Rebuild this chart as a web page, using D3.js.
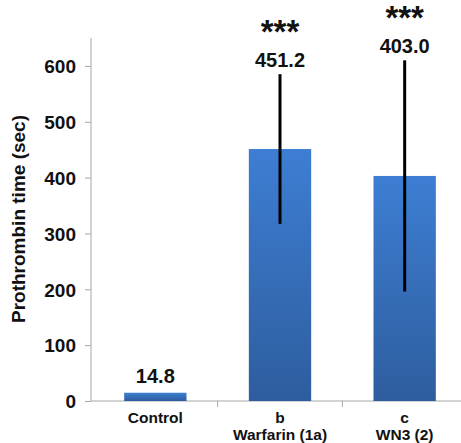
<!DOCTYPE html>
<html>
<head>
<meta charset="utf-8">
<script src="https://cdn.jsdelivr.net/npm/d3@7"></script>
<style>
	body { margin: 0; background: #fff; }
	text { font-family: "Liberation Sans", Arial, sans-serif; fill: #111; }
</style>
</head>
<body>
<svg id="chart" width="461" height="443"></svg>
<script>
// data
var categories = ["Control", "Warfarin (1a)", "WN3 (2)"];
var subLabels = ["", "b", "c"];
var values = [14.8, 451.2, 403.0];
var errors = [0, 134, 207];
var valueLabels = ["14.8", "451.2", "403.0"];
var stars = ["", "***", "***"];
var yTicks = [0, 100, 200, 300, 400, 500, 600];

var svg = d3.select("#chart");

var x = d3.scaleBand()
	.domain(categories)
	.range([93, 467])
	.paddingInner(0.5)
	.paddingOuter(0.25);

var y = d3.scaleLinear()
	.domain([0, 650])
	.range([401, 38]);

// bar gradient
var grad = svg.append("defs").append("linearGradient")
	.attr("id", "barGrad")
	.attr("x1", 0).attr("y1", 0)
	.attr("x2", 0).attr("y2", 1);
grad.append("stop").attr("offset", "0%").attr("stop-color", "#3d7ed3");
grad.append("stop").attr("offset", "100%").attr("stop-color", "#2e5d9e");

var rows = categories.map(function(c, i) {
	return {name: c, sub: subLabels[i], value: values[i], err: errors[i], label: valueLabels[i], stars: stars[i]};
});

// y axis
var yAxis = svg.append("g")
	.attr("transform", "translate(91,0)")
	.call(d3.axisLeft(y).tickValues(yTicks).tickSize(6).tickPadding(9));
yAxis.select(".domain").attr("stroke", "#a6a6a6").attr("d", "M0," + y(650) + "V" + y(0));
yAxis.selectAll(".tick line").attr("stroke", "#a6a6a6");
yAxis.selectAll(".tick text")
	.attr("font-size", 19)
	.attr("font-weight", "bold")
	.attr("fill", "#111")
	.attr("dy", "0.36em");

// x axis: ticks between categories
var bounds = categories.slice(1).map(function(c) { return x(c) - x.step() * x.paddingInner() / 2; });
svg.append("line")
	.attr("x1", 91).attr("x2", 461)
	.attr("y1", y(0)).attr("y2", y(0))
	.attr("stroke", "#a6a6a6");
svg.selectAll(".xtick")
	.data(bounds)
	.enter()
	.append("line")
	.attr("x1", function(d) { return d; })
	.attr("x2", function(d) { return d; })
	.attr("y1", y(0)).attr("y2", y(0) + 6)
	.attr("stroke", "#a6a6a6");

// bars
svg.selectAll(".bar")
	.data(rows)
	.enter()
	.append("rect")
	.attr("x", function(d) { return x(d.name); })
	.attr("width", x.bandwidth())
	.attr("y", function(d) { return y(d.value); })
	.attr("height", function(d) { return y(0) - y(d.value); })
	.attr("fill", "url(#barGrad)");

// error bars
svg.selectAll(".err")
	.data(rows.filter(function(d) { return d.err > 0; }))
	.enter()
	.append("line")
	.attr("x1", function(d) { return x(d.name) + x.bandwidth() / 2; })
	.attr("x2", function(d) { return x(d.name) + x.bandwidth() / 2; })
	.attr("y1", function(d) { return y(d.value + d.err); })
	.attr("y2", function(d) { return y(d.value - d.err); })
	.attr("stroke", "#000")
	.attr("stroke-width", 3);

// value labels
svg.selectAll(".val")
	.data(rows)
	.enter()
	.append("text")
	.attr("text-anchor", "middle")
	.attr("x", function(d) { return x(d.name) + x.bandwidth() / 2; })
	.attr("y", function(d) { return y(d.value + d.err) - (d.err > 0 ? 7 : 10); })
	.attr("font-size", 20)
	.attr("font-weight", "bold")
	.text(function(d) { return d.label; });

// significance stars
svg.selectAll(".star")
	.data(rows.filter(function(d) { return d.stars; }))
	.enter()
	.append("text")
	.attr("text-anchor", "middle")
	.attr("x", function(d) { return x(d.name) + x.bandwidth() / 2; })
	.attr("y", function(d) { return y(d.value + d.err) - 7 - 24; })
	.attr("font-size", 33)
	.attr("font-weight", "bold")
	.text(function(d) { return d.stars; });

// category labels (two lines where there is a letter)
var cat = svg.selectAll(".cat")
	.data(rows)
	.enter()
	.append("text")
	.attr("text-anchor", "middle")
	.attr("font-size", 15.5)
	.attr("font-weight", "bold");
cat.filter(function(d) { return d.sub; })
	.each(function(d) {
		var t = d3.select(this);
		var cx = x(d.name) + x.bandwidth() / 2;
		t.append("tspan").attr("x", cx).attr("y", 423).text(d.sub);
		t.append("tspan").attr("x", cx).attr("y", 440).text(d.name);
	});
cat.filter(function(d) { return !d.sub; })
	.attr("x", function(d) { return x(d.name) + x.bandwidth() / 2; })
	.attr("y", 423)
	.text(function(d) { return d.name; });

// y axis title
svg.append("text")
	.attr("transform", "translate(25," + 219 + ") rotate(-90)")
	.attr("text-anchor", "middle")
	.attr("font-size", 19)
	.attr("font-weight", "bold")
	.text("Prothrombin time (sec)");
</script>
</body>
</html>
